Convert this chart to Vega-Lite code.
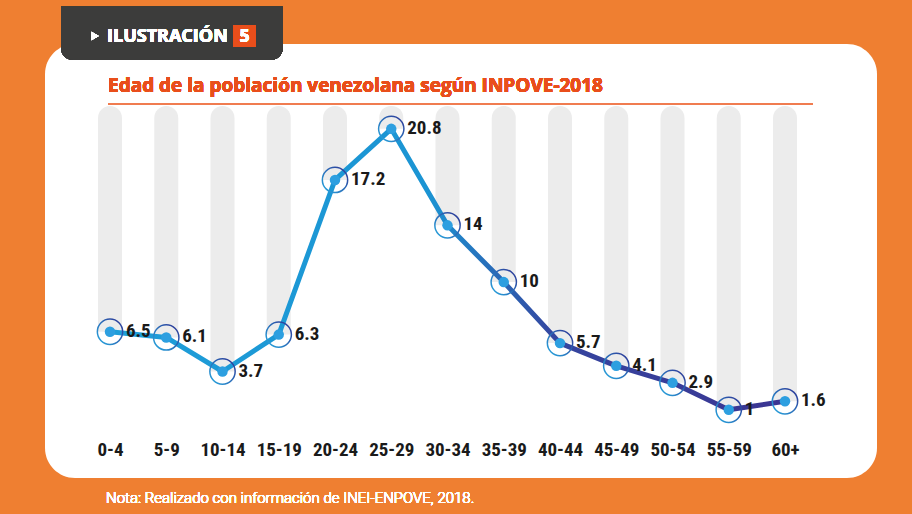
{
  "$schema": "https://vega.github.io/schema/vega-lite/v6.json",
  "width": 832,
  "height": 434,
  "autosize": {"type": "none"},
  "padding": {"left": 45, "top": 44, "right": 35, "bottom": 36},
  "background": "#ef7f31",
  "config": {
    "view": {"fill": "white", "cornerRadius": 30, "stroke": null}
  },
  "data": {
    "values": [
      {"age": "0-4", "value": 6.5},
      {"age": "5-9", "value": 6.1},
      {"age": "10-14", "value": 3.7},
      {"age": "15-19", "value": 6.3},
      {"age": "20-24", "value": 17.2},
      {"age": "25-29", "value": 20.8},
      {"age": "30-34", "value": 14},
      {"age": "35-39", "value": 10},
      {"age": "40-44", "value": 5.7},
      {"age": "45-49", "value": 4.1},
      {"age": "50-54", "value": 2.9},
      {"age": "55-59", "value": 1},
      {"age": "60+", "value": 1.6}
    ]
  },
  "encoding": {
    "x": {
      "field": "age",
      "type": "ordinal",
      "sort": null,
      "scale": {"type": "point", "range": [65, 740], "padding": 0},
      "axis": {
        "title": null,
        "orient": "bottom",
        "offset": -38,
        "labelPadding": 0,
        "labelAngle": 0,
        "domain": false,
        "ticks": false,
        "grid": false,
        "labelFont": "Roboto Condensed, Liberation Sans Narrow, DejaVu Sans Condensed, Roboto, sans-serif",
        "labelFontSize": 19,
        "labelFontWeight": "bold",
        "labelColor": "#1a1a1a"
      }
    },
    "y": {
      "field": "value",
      "type": "quantitative",
      "scale": {"domain": [-3.805, 26.78], "nice": false, "zero": false},
      "axis": null
    }
  },
  "layer": [
    {
      "mark": {"type": "bar", "width": 24, "color": "#ececec", "cornerRadiusTopLeft": 12, "cornerRadiusTopRight": 12},
      "encoding": {"y2": {"datum": 22.41}}
    },
    {
      "mark": {"type": "rule", "color": "#f07c50", "strokeWidth": 2, "xOffset": -2, "x2Offset": 28},
      "encoding": {
        "x": {"datum": "0-4"},
        "x2": {"datum": "60+"},
        "y": {"datum": 22.55}
      }
    },
    {
      "mark": {"type": "text", "text": "Edad de la población venezolana según INPOVE-2018", "align": "left", "baseline": "alphabetic", "dx": -2, "font": "Open Sans, sans-serif", "fontSize": 19, "fontWeight": "bold", "color": "#e94e1b"},
      "encoding": {
        "x": {"datum": "0-4"},
        "y": {"datum": 23.4}
      }
    },
    {
      "mark": {
        "type": "line",
        "strokeWidth": 5,
        "strokeJoin": "round",
        "stroke": {
          "gradient": "linear",
          "x1": 0, "y1": 0, "x2": 1, "y2": 0,
          "stops": [
            {"offset": 0, "color": "#1e9ed9"},
            {"offset": 0.47, "color": "#1b94d3"},
            {"offset": 0.66, "color": "#35459f"},
            {"offset": 1, "color": "#3b3592"}
          ]
        }
      }
    },
    {
      "mark": {
        "type": "point",
        "shape": "circle",
        "size": 640,
        "filled": false,
        "strokeWidth": 1.5,
        "opacity": 1,
        "stroke": {
          "gradient": "linear",
          "x1": 0, "y1": 1, "x2": 1, "y2": 0,
          "stops": [
            {"offset": 0, "color": "#27aae1"},
            {"offset": 1, "color": "#2e3192"}
          ]
        }
      }
    },
    {
      "mark": {"type": "circle", "size": 110, "color": "#2d9fe0", "opacity": 1}
    },
    {
      "mark": {
        "type": "text",
        "align": "left",
        "baseline": "middle",
        "dx": 16,
        "dy": -1,
        "font": "Roboto Condensed, Liberation Sans Narrow, DejaVu Sans Condensed, Roboto, sans-serif",
        "fontSize": 19,
        "fontWeight": "bold",
        "color": "#1a1a1a"
      },
      "encoding": {"text": {"field": "value", "type": "quantitative"}}
    },
    {
      "mark": {"type": "rect", "color": "#3c3c3b", "xOffset": -49, "x2Offset": 4, "cornerRadiusBottomLeft": 12, "cornerRadiusBottomRight": 12},
      "encoding": {
        "x": {"datum": "0-4"},
        "x2": {"datum": "15-19"},
        "y": {"datum": 29.4},
        "y2": {"datum": 25.65}
      }
    },
    {
      "mark": {"type": "rect", "color": "#e94e1b", "xOffset": 11, "x2Offset": 33},
      "encoding": {
        "x": {"datum": "10-14"},
        "x2": {"datum": "10-14"},
        "y": {"datum": 28.12},
        "y2": {"datum": 26.57}
      }
    },
    {
      "mark": {"type": "text", "text": "5", "color": "white", "font": "Open Sans, sans-serif", "fontWeight": "bold", "fontSize": 17, "align": "center", "baseline": "middle", "dx": 22, "dy": 1},
      "encoding": {
        "x": {"datum": "10-14"},
        "y": {"datum": 27.34}
      }
    },
    {
      "mark": {"type": "point", "shape": "triangle-right", "filled": true, "size": 70, "color": "white", "opacity": 1, "xOffset": -15},
      "encoding": {
        "x": {"datum": "0-4"},
        "y": {"datum": 27.34}
      }
    },
    {
      "mark": {"type": "text", "text": "ILUSTRACIÓN", "color": "white", "font": "Open Sans, sans-serif", "fontWeight": "bold", "fontSize": 18, "align": "left", "baseline": "middle", "dx": -3, "dy": 1},
      "encoding": {
        "x": {"datum": "0-4"},
        "y": {"datum": 27.34}
      }
    },
    {
      "mark": {"type": "text", "text": "Nota: Realizado con información de INEI-ENPOVE, 2018.", "color": "white", "font": "Roboto, sans-serif", "fontSize": 15, "fontWeight": 300, "align": "left", "baseline": "alphabetic", "dx": -4},
      "encoding": {
        "x": {"datum": "0-4"},
        "y": {"datum": -5.57}
      }
    }
  ]
}
